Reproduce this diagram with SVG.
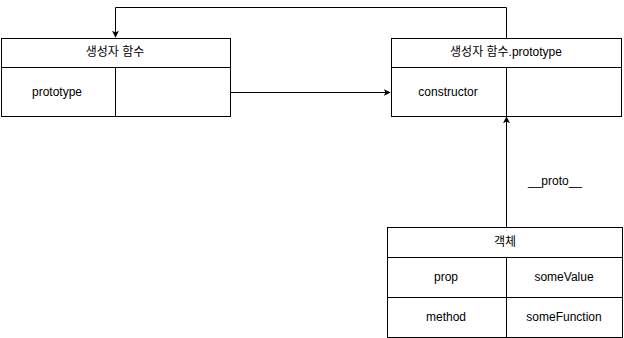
<svg xmlns="http://www.w3.org/2000/svg" width="624" height="338" viewBox="0 0 624 338">
  <style>
    .box { fill: #ffffff; stroke: #000000; stroke-width: 1; }
    .line { fill: none; stroke: #000000; stroke-width: 1; }
    .edge { fill: none; stroke: #000000; stroke-width: 1; }
    text { font-family: "Liberation Sans", "Noto Sans CJK KR", sans-serif; font-size: 12px; fill: #000000; text-anchor: middle; dominant-baseline: central; }
  </style>
  <defs>
    <marker id="arrow" viewBox="0 0 10 10" refX="9" refY="5" markerWidth="7" markerHeight="7" markerUnits="userSpaceOnUse" orient="auto">
      <path d="M0,0 L10,5 L0,10 L2.5,5 Z" fill="#000000"/>
    </marker>
  </defs>

  <rect width="624" height="338" fill="#ffffff"/>

  <!-- connectors -->
  <g id="connectors">
    <path class="edge" d="M506.5,38 V7.5 H115.5 V37" marker-end="url(#arrow)"/>
    <path class="edge" d="M230,92.5 H390" marker-end="url(#arrow)"/>
    <path class="edge" d="M506.5,227 V117" marker-end="url(#arrow)"/>
    <text x="555" y="181">__proto__</text>
  </g>

  <!-- constructor function -->
  <g id="ctor">
    <rect class="box" x="1.5" y="38.5" width="229" height="78"/>
    <path class="line" d="M1.5,67.5 H230.5 M115.5,67.5 V116.5"/>
    <text x="115" y="52">생성자 함수</text>
    <text x="57" y="92">prototype</text>
  </g>

  <!-- prototype object -->
  <g id="proto">
    <rect class="box" x="391.5" y="38.5" width="230" height="78"/>
    <path class="line" d="M391.5,67.5 H621.5 M506.5,67.5 V116.5"/>
    <text x="506" y="52">생성자 함수.prototype</text>
    <text x="448" y="92">constructor</text>
  </g>

  <!-- instance -->
  <g id="instance">
    <rect class="box" x="387.5" y="227.5" width="235" height="110"/>
    <path class="line" d="M387.5,257.5 H622.5 M387.5,297.5 H622.5 M506.5,257.5 V337.5"/>
    <text x="505" y="242">객체</text>
    <text x="446" y="277">prop</text>
    <text x="564" y="277">someValue</text>
    <text x="446" y="317">method</text>
    <text x="564" y="317">someFunction</text>
  </g>
</svg>
